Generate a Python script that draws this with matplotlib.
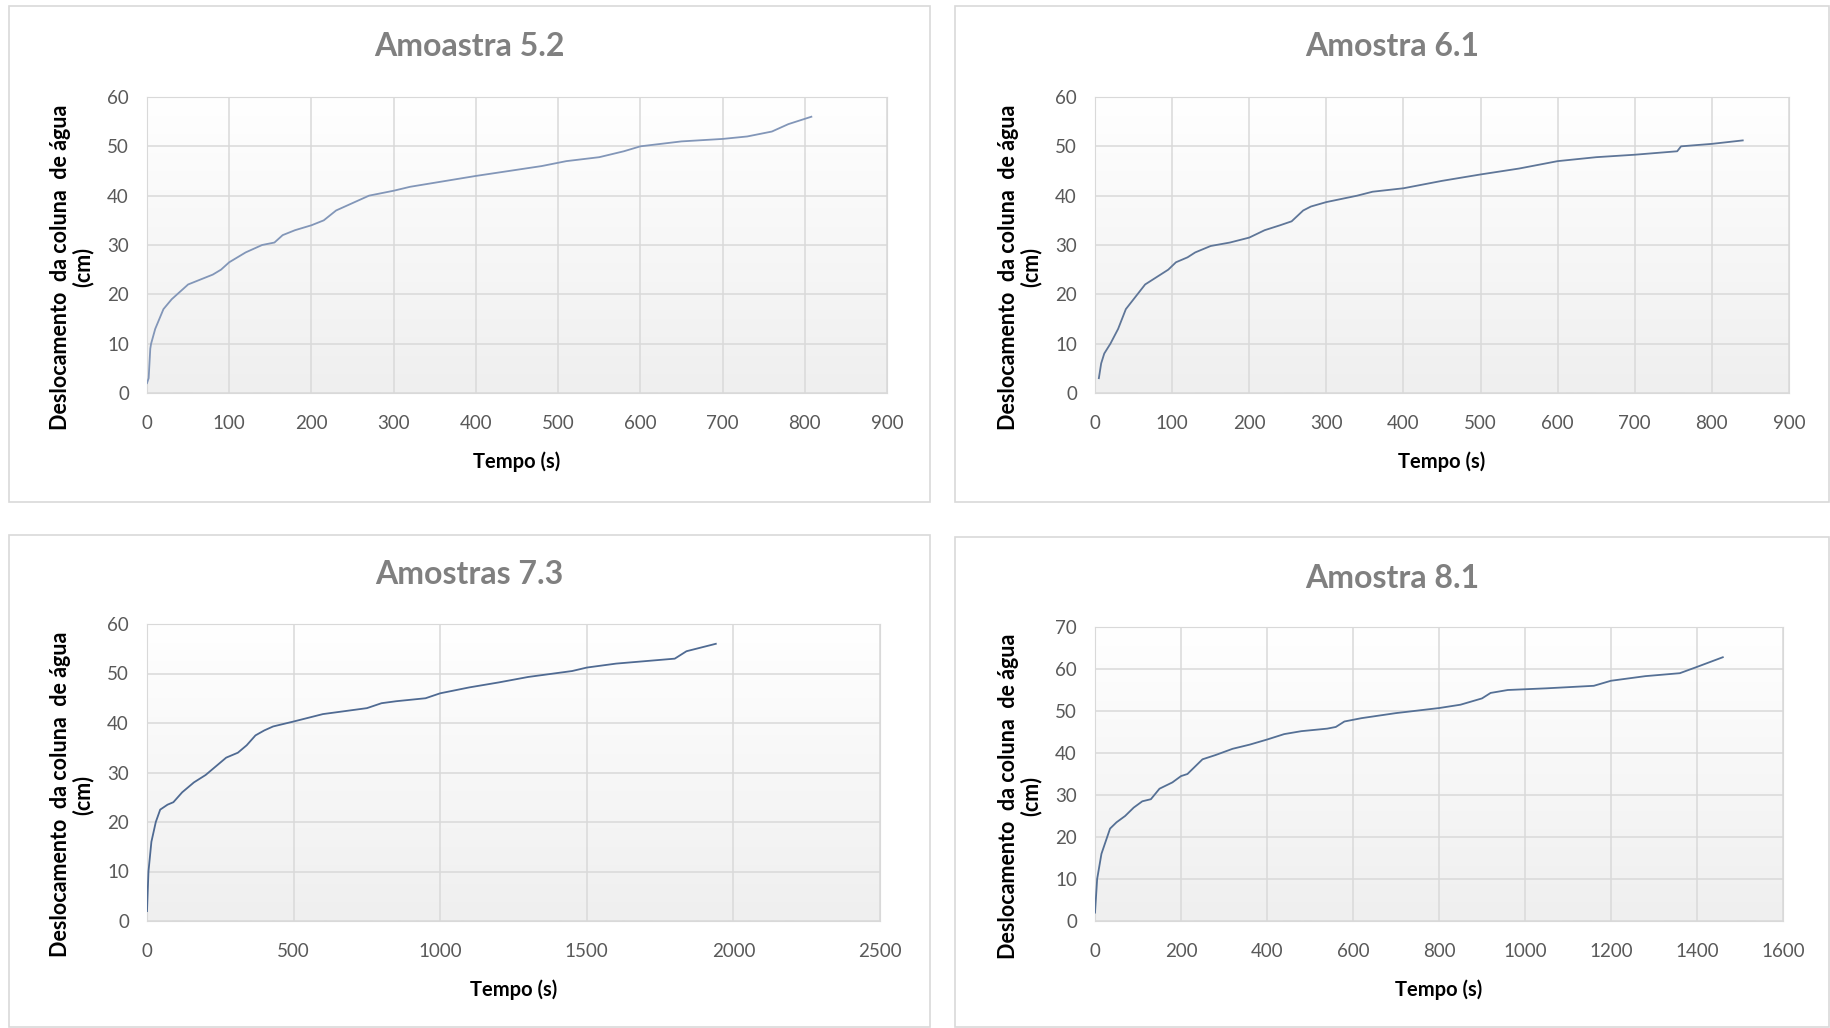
import numpy as np
import matplotlib
matplotlib.use('Agg')
import matplotlib.pyplot as plt
from matplotlib.patches import Rectangle

plt.rcParams['font.family'] = ['Lato', 'DejaVu Sans']

# Amoastra 5.2
t52 = [0, 2, 4, 5, 10, 20, 30, 50, 80, 90, 100, 120, 140, 155, 165, 180, 200, 215, 230, 250, 270,
       300, 320, 400, 480, 510, 550, 580, 600, 650, 700, 730, 760, 780, 808]
d52 = [2, 3, 9, 10, 13, 17, 19, 22, 24, 25, 26.5, 28.5, 30, 30.5, 32, 33, 34, 35, 37, 38.5, 40,
       41, 41.8, 44, 46, 47, 47.8, 49, 50, 51, 51.5, 52, 53, 54.5, 56]

# Amostra 6.1
t61 = [5, 8, 12, 20, 30, 40, 55, 65, 80, 95, 105, 120, 130, 150, 175, 200, 220, 240, 255, 270,
       280, 300, 340, 360, 400, 450, 500, 550, 600, 650, 700, 755, 760, 800, 840]
d61 = [3, 6, 8, 10, 13, 17, 20, 22, 23.5, 25, 26.5, 27.5, 28.5, 29.8, 30.5, 31.5, 33, 34, 34.8, 37,
       37.8, 38.7, 40, 40.8, 41.5, 43, 44.3, 45.5, 47, 47.8, 48.3, 49, 50, 50.5, 51.2]

# Amostras 7.3
t73 = [0, 5, 15, 30, 45, 70, 90, 120, 160, 200, 240, 270, 310, 340, 370, 400, 430, 500, 600, 750,
       800, 850, 950, 1000, 1100, 1200, 1300, 1450, 1500, 1600, 1700, 1800, 1840, 1940]
d73 = [2, 10, 16, 20, 22.5, 23.5, 24, 26, 28, 29.5, 31.5, 33, 34, 35.5, 37.5, 38.5, 39.3, 40.3,
       41.8, 43, 44, 44.4, 45, 46, 47.2, 48.2, 49.3, 50.5, 51.2, 52, 52.5, 53, 54.5, 56]

# Amostra 8.1
t81 = [0, 5, 15, 25, 35, 50, 70, 90, 110, 130, 150, 180, 200, 215, 230, 250, 280, 320, 360, 400,
       440, 480, 540, 560, 580, 620, 700, 800, 850, 900, 920, 960, 1050, 1160, 1200, 1280, 1360,
       1400, 1460]
d81 = [2, 10, 16, 19, 22, 23.5, 25, 27, 28.5, 29, 31.5, 33, 34.5, 35, 36.5, 38.5, 39.5, 41, 42,
       43.2, 44.5, 45.2, 45.8, 46.2, 47.5, 48.3, 49.5, 50.7, 51.5, 53, 54.3, 55, 55.4, 56, 57.2,
       58.3, 59, 60.5, 62.8]

titles = ['Amoastra 5.2', 'Amostra 6.1', 'Amostras 7.3', 'Amostra 8.1']
xmax = [900, 900, 2500, 1600]
xstep = [100, 100, 500, 200]
ymax = [60, 60, 60, 70]
series = [(t52, d52), (t61, d61), (t73, d73), (t81, d81)]
colors = ['#8296b8', '#5f7698', '#4f6a92', '#557095']

W, H = 1830, 1028
fig = plt.figure(figsize=(W / 100, H / 100), dpi=100)

# panel frames (pixels: x0, y0, x1, y1) and plot areas
frames = [(9, 6, 930, 502), (955, 6, 1829, 502), (9, 535, 930, 1027), (955, 537, 1829, 1027)]
areas = [(147, 97, 887, 393), (1095, 97, 1789, 393), (147, 624, 880, 921), (1095, 627, 1783, 921)]
title_pos = [(469, 47), (1392, 47), (469, 574), (1392, 578)]

for (x0, y0, x1, y1) in frames:
    fig.patches.append(Rectangle((x0 / W, 1 - y1 / H), (x1 - x0) / W, (y1 - y0) / H,
                                 transform=fig.transFigure, fill=False, edgecolor='#d9d9d9', lw=1.2))

grad = np.linspace(1, 0, 256).reshape(-1, 1)
for i in range(4):
    x0, y0, x1, y1 = areas[i]
    ax = fig.add_axes([x0 / W, 1 - y1 / H, (x1 - x0) / W, (y1 - y0) / H])
    ax.imshow(grad, cmap=matplotlib.colors.LinearSegmentedColormap.from_list('g', ['#efefef', '#ffffff']),
              aspect='auto', extent=[0, 1, 0, 1], transform=ax.transAxes, zorder=0)
    t, d = series[i]
    ax.plot(t, d, color=colors[i], lw=1.3, zorder=3)
    ax.set_xlim(0, xmax[i])
    ax.set_ylim(0, ymax[i])
    ax.set_xticks(np.arange(0, xmax[i] + 1, xstep[i]))
    ax.set_yticks(np.arange(0, ymax[i] + 1, 10))
    ax.grid(True, color='#d9d9d9', lw=1.1, zorder=1)
    ax.set_axisbelow(True)
    for s in ax.spines.values():
        s.set_color('#d9d9d9')
    ax.tick_params(length=0, labelsize=13.5, labelcolor='#595959')
    ax.tick_params(axis='x', pad=16)
    ax.tick_params(axis='y', pad=13)
    ax.set_xlabel('Tempo (s)', fontsize=14.5, fontweight='bold', labelpad=14)
    ax.set_ylabel('Deslocamento  da coluna  de água\n(cm)', fontsize=15.5, fontweight='bold',
                  labelpad=10, linespacing=1.05)
    ax.yaxis.label.set_y(0.425)
    tx, ty = title_pos[i]
    fig.text(tx / W, 1 - ty / H, titles[i], ha='center', va='center', fontsize=23,
             fontweight='bold', color='#808080')

fig.savefig('out.png', dpi=100, facecolor='white')
